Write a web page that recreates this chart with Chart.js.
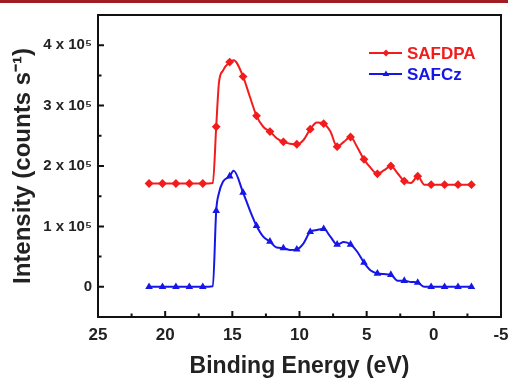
<!DOCTYPE html>
<html>
<head>
<meta charset="utf-8">
<script src="https://cdn.jsdelivr.net/npm/chart.js@4.4.1/dist/chart.umd.min.js"></script>
<style>
	html, body { margin:0; padding:0; background:#fff; }
	#wrap { position:relative; width:508px; height:379px; }
	#bar { position:absolute; left:0; top:0; width:508px; height:3px; background:#a11d24; }
</style>
</head>
<body>
<div id="wrap"><canvas id="myChart" width="508" height="379"></canvas><div id="bar"></div></div>
<script>
// binding energy (eV), markers sit every 1 eV from 21.2 down to -2.8
var energy = [21.2, 20.2, 19.2, 18.2, 17.2, 16.45, 16.2, 16.0, 15.7, 15.2, 14.9, 14.2, 13.7, 13.2, 12.7, 12.2,
	11.7, 11.2, 10.7, 10.2, 9.7, 9.2, 8.7, 8.2, 7.7, 7.2, 6.7, 6.2, 5.7, 5.2, 4.7, 4.2, 3.7, 3.2, 2.7, 2.2,
	1.7, 1.2, 0.7, 0.2, -0.8, -1.8, -2.8];
// intensity in units of 10^5 counts/s
var safdpa = [1.71, 1.71, 1.71, 1.71, 1.71, 1.72, 2.65, 3.37, 3.58, 3.72, 3.75, 3.48, 3.15, 2.83, 2.65, 2.57,
	2.46, 2.40, 2.37, 2.36, 2.43, 2.61, 2.72, 2.70, 2.57, 2.32, 2.40, 2.48, 2.31, 2.11, 1.97, 1.87, 1.93, 2.00, 1.88, 1.75,
	1.72, 1.83, 1.69, 1.69, 1.69, 1.69, 1.69];
var safcz = [0, 0, 0, 0, 0, 0.01, 1.26, 1.55, 1.74, 1.83, 1.92, 1.56, 1.27, 1.01, 0.83, 0.75,
	0.65, 0.64, 0.61, 0.62, 0.72, 0.91, 0.94, 0.96, 0.83, 0.70, 0.74, 0.70, 0.58, 0.40, 0.27, 0.22, 0.21, 0.20, 0.10, 0.10,
	0.08, 0.07, 0, 0, 0, 0, 0];
var xTicks = [25, 20, 15, 10, 5, 0, -5];
var yTicks = [0, 1, 2, 3, 4];
var yTickLabels = ['0', '1 x 10\u2075', '2 x 10\u2075', '3 x 10\u2075', '4 x 10\u2075'];

var RED = '#f21c1c', BLUE = '#1616e6';
var FONT = 'Liberation Sans, Arial, sans-serif';

function isMarker(e){
	var d = 21.2 - e;
	return Math.abs(d - Math.round(d)) < 0.01;
}

function pts(vals){
	return energy.map(function(e, i){ return {x: e, y: vals[i]}; });
}

function tri(ctx, x, y, r){
	ctx.beginPath();
	ctx.moveTo(x, y - r);
	ctx.lineTo(x + r * 0.95, y + r * 0.6);
	ctx.lineTo(x - r * 0.95, y + r * 0.6);
	ctx.closePath();
	ctx.fill();
}
function diamond(ctx, x, y, r){
	ctx.beginPath();
	ctx.moveTo(x, y - r);
	ctx.lineTo(x + r, y);
	ctx.lineTo(x, y + r);
	ctx.lineTo(x - r, y);
	ctx.closePath();
	ctx.fill();
}

// frame, inward ticks and legend
var framePlugin = {
	id: 'frame',
	afterDraw: function(chart){
		var ctx = chart.ctx, a = chart.chartArea;
		var xs = chart.scales.x, ys = chart.scales.y;
		ctx.save();
		ctx.strokeStyle = '#111';
		ctx.lineWidth = 2;
		ctx.strokeRect(a.left, a.top, a.right - a.left, a.bottom - a.top);
		ctx.beginPath();
		for (var v = -5; v <= 25; v += 2.5) {
			var px = xs.getPixelForValue(v);
			var len = (v % 5 === 0) ? 6 : 3.5;
			ctx.moveTo(px, a.bottom);
			ctx.lineTo(px, a.bottom - len);
		}
		for (var w = -0.5; w <= 4.5; w += 0.5) {
			var py = ys.getPixelForValue(w);
			var l2 = (Math.abs(w - Math.round(w)) < 0.01) ? 6 : 3.5;
			ctx.moveTo(a.left, py);
			ctx.lineTo(a.left + l2, py);
		}
		ctx.stroke();

		// legend
		var items = [
			{label: 'SAFDPA', color: RED, y: 53, mark: diamond},
			{label: 'SAFCz', color: BLUE, y: 74, mark: tri}
		];
		ctx.font = 'bold 17px ' + FONT;
		ctx.textBaseline = 'middle';
		items.forEach(function(it){
			ctx.strokeStyle = it.color;
			ctx.fillStyle = it.color;
			ctx.lineWidth = 2;
			ctx.beginPath();
			ctx.moveTo(369, it.y);
			ctx.lineTo(402, it.y);
			ctx.stroke();
			it.mark(ctx, 386, it.y, 3.5);
			ctx.fillText(it.label, 407, it.y + 1);
		});
		ctx.restore();
	}
};

var ctx = document.getElementById('myChart');
var myChart = new Chart(ctx, {
	type: 'line',
	data: {
		datasets: [{
			label: 'SAFDPA',
			data: pts(safdpa),
			borderColor: RED,
			backgroundColor: RED,
			borderWidth: 2,
			pointStyle: 'rectRot',
			pointRadius: function(c){ return isMarker(energy[c.dataIndex]) ? 4.4 : 0; },
			pointBorderWidth: 0,
			cubicInterpolationMode: 'monotone'
		},
		{
			label: 'SAFCz',
			data: pts(safcz),
			borderColor: BLUE,
			backgroundColor: BLUE,
			borderWidth: 2,
			pointStyle: 'triangle',
			pointRadius: function(c){ return isMarker(energy[c.dataIndex]) ? 4.4 : 0; },
			pointBorderWidth: 0,
			cubicInterpolationMode: 'monotone'
		}]
	},
	options: {
		responsive: false,
		animation: false,
		layout: { padding: { left: 0, top: 15, right: 7, bottom: 0 } },
		plugins: { legend: { display: false }, tooltip: { enabled: false } },
		scales: {
			x: {
				type: 'linear',
				reverse: true,
				min: -5,
				max: 25,
				afterBuildTicks: function(s){ s.ticks = xTicks.map(function(v){ return {value: v}; }); },
				afterFit: function(s){ s.height = 62; s.paddingLeft = 0; s.paddingRight = 0; },
				grid: { display: false, drawTicks: false },
				border: { display: false },
				ticks: { padding: 8, color: '#222', font: { family: FONT, weight: 'bold', size: 17 }, maxRotation: 0 },
				title: { display: true, text: 'Binding Energy (eV)', color: '#222', padding: { top: 0, bottom: 1 },
					font: { family: FONT, weight: 'bold', size: 23, lineHeight: 1.0 } }
			},
			y: {
				type: 'linear',
				min: -0.5,
				max: 4.5,
				afterBuildTicks: function(s){ s.ticks = yTicks.map(function(v){ return {value: v}; }); },
				afterFit: function(s){ s.width = 98; s.paddingTop = 0; s.paddingBottom = 0; },
				grid: { display: false, drawTicks: false },
				border: { display: false },
				ticks: {
					padding: 6, color: '#222', font: { family: FONT, weight: 'bold', size: 15 },
					callback: function(v){ return yTickLabels[yTicks.indexOf(v)]; }
				},
				title: { display: true, text: 'Intensity (counts s\u207B\u00B9)', color: '#222', padding: { top: 9, bottom: 0 },
					font: { family: FONT, weight: 'bold', size: 24 } }
			}
		}
	},
	plugins: [framePlugin]
});
</script>
</body>
</html>
